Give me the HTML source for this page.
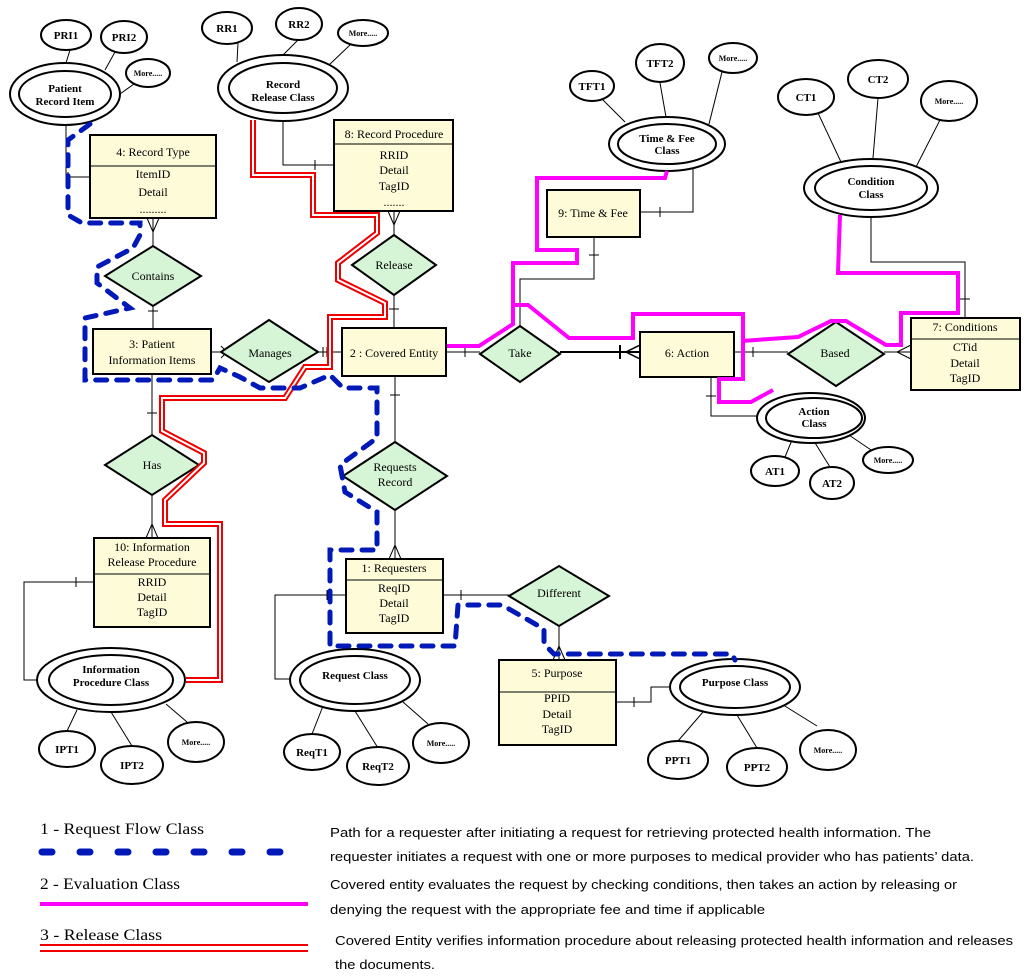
<!DOCTYPE html>
<html><head><meta charset="utf-8"><style>
html,body{margin:0;padding:0;background:#fff;}
svg{display:block;}
.s{font-family:"Liberation Serif",serif;}
</style></head><body>
<svg width="1024" height="978" viewBox="0 0 1024 978" xmlns="http://www.w3.org/2000/svg" class="s">
<g stroke="#000" stroke-width="1" fill="none">
<!-- connector lines -->
<polyline points="66,125 66,177 90,177"/><line x1="68" y1="172" x2="68" y2="182"/>
<polyline points="283,122 283,165 334,165"/><line x1="315" y1="160" x2="315" y2="170"/>
<line x1="153" y1="218" x2="153" y2="246"/><polyline points="147,218 153,232 159,218"/>
<line x1="153" y1="306" x2="153" y2="329"/><line x1="148" y1="311" x2="158" y2="311"/>
<line x1="394" y1="211" x2="394" y2="235"/><polyline points="388,211 394,225 400,211"/>
<line x1="394" y1="295" x2="394" y2="328"/><line x1="389" y1="309" x2="399" y2="309"/>
<line x1="211" y1="352" x2="221" y2="352"/><polyline points="221,346 227,352 221,358"/>
<line x1="318" y1="352" x2="342" y2="352"/><line x1="323" y1="347" x2="323" y2="357"/><line x1="327" y1="347" x2="327" y2="357"/>
<line x1="446" y1="352" x2="480" y2="352"/><line x1="465" y1="347" x2="465" y2="357"/>
<line x1="560" y1="352" x2="640" y2="352" stroke-width="2"/><line x1="620" y1="345" x2="620" y2="359" stroke-width="2"/><polyline points="640,345 626,352 640,359" stroke-width="1.5"/>
<line x1="734" y1="352" x2="788" y2="352"/><line x1="753" y1="347" x2="753" y2="357"/>
<line x1="884" y1="352" x2="911" y2="352"/><polyline points="911,345 897,352 911,359"/>
<polyline points="594,237 594,279 520,279 520,328"/><line x1="589" y1="255" x2="599" y2="255"/>
<polyline points="640,212 693,212 693,169"/><line x1="660" y1="207" x2="660" y2="217"/>
<polyline points="871,216 871,262 965,262 965,318"/><line x1="960" y1="299" x2="970" y2="299"/>
<polyline points="711,377 711,416 758,416"/><line x1="706" y1="396" x2="716" y2="396"/>
<line x1="152" y1="374" x2="152" y2="435"/><line x1="147" y1="413" x2="157" y2="413"/>
<line x1="152" y1="495" x2="152" y2="538"/><polyline points="146,538 152,524 158,538"/>
<line x1="395" y1="376" x2="395" y2="442"/><line x1="390" y1="395" x2="400" y2="395"/>
<line x1="395" y1="510" x2="395" y2="559"/><polyline points="389,559 395,545 401,559"/>
<polyline points="94,582 24,582 24,680 37,680"/><line x1="76" y1="577" x2="76" y2="587"/>
<polyline points="346,595 275,595 275,679 290,679"/><line x1="327" y1="590" x2="327" y2="600"/>
<line x1="443" y1="595" x2="509" y2="595"/><line x1="461" y1="590" x2="461" y2="600"/>
<line x1="559" y1="626" x2="559" y2="660"/><polyline points="553,660 559,646 565,660"/>
<polyline points="616,702 651,702 651,687 670,687"/><line x1="634" y1="697" x2="634" y2="707"/>
<!-- attribute lines -->
<line x1="70" y1="50" x2="66" y2="63"/><line x1="115" y1="52" x2="105" y2="70"/><line x1="134" y1="84" x2="120" y2="94"/>
<line x1="238" y1="43" x2="237" y2="62"/><line x1="298" y1="40" x2="283" y2="55"/><line x1="350" y1="45" x2="329" y2="65"/>
<line x1="602" y1="99" x2="625" y2="122"/><line x1="660" y1="83" x2="666" y2="117"/><line x1="722" y1="72" x2="709" y2="124"/>
<line x1="818" y1="113" x2="841" y2="162"/><line x1="878" y1="98" x2="873" y2="158"/><line x1="940" y1="120" x2="916" y2="167"/>
<line x1="785" y1="457" x2="792" y2="440"/><line x1="812" y1="438" x2="830" y2="467"/><line x1="846" y1="433" x2="874" y2="452"/>
<line x1="67" y1="731" x2="77" y2="710"/><line x1="132" y1="746" x2="111" y2="712"/><line x1="187" y1="722" x2="166" y2="704"/>
<line x1="312" y1="734" x2="323" y2="706"/><line x1="378" y1="748" x2="355" y2="711"/><line x1="428" y1="724" x2="403" y2="702"/>
<line x1="678" y1="741" x2="703" y2="712"/><line x1="757" y1="748" x2="737" y2="715"/><line x1="817" y1="726" x2="780" y2="703"/>
</g>
<!-- boxes -->
<g stroke="#000" stroke-width="2" fill="#fdfbd8">
<rect x="90" y="135" width="126" height="83"/>
<rect x="334" y="120" width="119" height="91"/>
<rect x="93" y="329" width="118" height="45"/>
<rect x="342" y="328" width="104" height="48"/>
<rect x="547" y="190" width="93" height="47"/>
<rect x="640" y="332" width="94" height="45"/>
<rect x="911" y="318" width="109" height="72"/>
<rect x="94" y="538" width="116" height="89"/>
<rect x="346" y="559" width="97" height="74"/>
<rect x="499" y="660" width="117" height="85"/>
</g>
<g stroke="#000" stroke-width="1">
<line x1="90" y1="166" x2="216" y2="166"/><line x1="334" y1="144" x2="453" y2="144"/>
<line x1="911" y1="339" x2="1020" y2="339"/><line x1="94" y1="574" x2="210" y2="574"/>
<line x1="346" y1="580" x2="443" y2="580"/><line x1="499" y1="692" x2="616" y2="692"/>
</g>
<!-- diamonds -->
<g stroke="#000" stroke-width="2" fill="#d6f5d6">
<polygon points="105,276 153,246 201,276 153,306"/>
<polygon points="352,265 394,235 436,265 394,295"/>
<polygon points="221,352 269,320 318,352 269,382"/>
<polygon points="480,354 520,326 560,354 520,382"/>
<polygon points="788,354 836,322 884,354 836,386"/>
<polygon points="105,465 152,435 199,465 152,495"/>
<polygon points="343,476 395,442 447,476 395,510"/>
<polygon points="509,596 559,566 609,596 559,626"/>
</g>
<!-- ellipses -->
<g stroke="#000" stroke-width="2" fill="#fff">
<ellipse cx="66" cy="35" rx="25" ry="15"/><ellipse cx="124" cy="37" rx="23" ry="16"/><ellipse cx="148" cy="73" rx="22" ry="14"/>
<ellipse cx="65" cy="94" rx="55" ry="31"/><ellipse cx="65" cy="94" rx="46" ry="23"/>
<ellipse cx="227" cy="28" rx="25" ry="16"/><ellipse cx="299" cy="24" rx="23" ry="16"/><ellipse cx="363" cy="33" rx="25" ry="13"/>
<ellipse cx="283" cy="88" rx="65" ry="33"/><ellipse cx="283" cy="88" rx="54" ry="25"/>
<ellipse cx="592" cy="86" rx="22" ry="15"/><ellipse cx="660" cy="63" rx="24" ry="19"/><ellipse cx="733" cy="58" rx="24" ry="15"/>
<ellipse cx="667" cy="144" rx="58" ry="27"/><ellipse cx="667" cy="144" rx="49" ry="20"/>
<ellipse cx="806" cy="97" rx="28" ry="18"/><ellipse cx="878" cy="79" rx="30" ry="19"/><ellipse cx="949" cy="101" rx="28" ry="20"/>
<ellipse cx="871" cy="188" rx="67" ry="29"/><ellipse cx="871" cy="188" rx="56" ry="22"/>
<ellipse cx="811" cy="418" rx="54" ry="25"/><ellipse cx="814" cy="418" rx="48" ry="20"/>
<ellipse cx="775" cy="471" rx="24" ry="15"/><ellipse cx="832" cy="483" rx="22" ry="16"/><ellipse cx="888" cy="460" rx="25" ry="13"/>
<ellipse cx="111" cy="680" rx="74" ry="32"/><ellipse cx="111" cy="680" rx="62" ry="25"/>
<ellipse cx="67" cy="749" rx="28" ry="18"/><ellipse cx="132" cy="765" rx="31" ry="19"/><ellipse cx="196" cy="742" rx="28" ry="20"/>
<ellipse cx="355" cy="680" rx="65" ry="31"/><ellipse cx="355" cy="680" rx="55" ry="24"/>
<ellipse cx="312" cy="752" rx="28" ry="18"/><ellipse cx="378" cy="766" rx="31" ry="19"/><ellipse cx="441" cy="743" rx="28" ry="20"/>
<ellipse cx="735" cy="687" rx="65" ry="28"/><ellipse cx="735" cy="687" rx="55" ry="21"/>
<ellipse cx="678" cy="760" rx="30" ry="19"/><ellipse cx="757" cy="767" rx="30" ry="19"/><ellipse cx="828" cy="750" rx="28" ry="20"/>
</g>
<!-- colored paths -->
<polyline fill="none" stroke="#e00" stroke-width="6" stroke-linejoin="miter" points="253,120 253,175 313,175 313,215 377,215 377,233 338,263 338,280 385,303 385,317 330,317 330,367 305,367 285,398 162,398 162,431 204,453 204,463 165,500 165,524 220,524 220,680 186,680"/>
<polyline fill="none" stroke="#fff" stroke-width="2" points="253,120 253,175 313,175 313,215 377,215 377,233 338,263 338,280 385,303 385,317 330,317 330,367 305,367 285,398 162,398 162,431 204,453 204,463 165,500 165,524 220,524 220,680 186,680"/>
<g fill="none" stroke="#f0f" stroke-width="4">
<polyline points="447,346 479,346 513,324 513,263 577,263 577,250 537,250 537,178 665,178 667,171"/>
<polyline points="513,305 528,305 569,338 633,338 633,314 743,314 743,379 719,379 719,402 751,402 773,390"/>
<polyline points="741,341 798,337 831,321 846,321 886,345 901,345 901,313 958,313 958,273 838,273 840,215"/>
</g>
<polyline fill="none" stroke="#0019b8" stroke-width="5" stroke-dasharray="11,10" stroke-linecap="round" points="90,124 68,140 68,215 82,223 140,223 140,235 133,248 97,267 97,283 130,308 85,318 85,380 213,380 220,368 240,377 260,388 300,388 330,375 343,388 377,388 377,438 340,465 345,492 377,512 377,550 330,550 330,646 455,646 458,605 502,605 544,629 544,644 554,654 732,654 735,660"/>
<!-- text -->
<g font-size="12" text-anchor="middle" fill="#000">
<text x="153" y="156">4: Record Type</text>
<text x="153" y="178">ItemID</text><text x="153" y="196">Detail</text><text x="153" y="213">.........</text>
<text x="394" y="138">8: Record Procedure</text>
<text x="394" y="159">RRID</text><text x="394" y="174">Detail</text><text x="394" y="190">TagID</text><text x="394" y="206">.......</text>
<text x="153" y="280">Contains</text>
<text x="394" y="269">Release</text>
<text x="152" y="348">3: Patient</text><text x="152" y="364">Information Items</text>
<text x="270" y="357">Manages</text>
<text x="394" y="357">2 : Covered Entity</text>
<text x="520" y="357">Take</text>
<text x="593" y="217">9: Time &amp; Fee</text>
<text x="687" y="357">6: Action</text>
<text x="835" y="357">Based</text>
<text x="965" y="331">7: Conditions</text>
<text x="965" y="351">CTid</text><text x="965" y="367">Detail</text><text x="965" y="382">TagID</text>
<text x="152" y="469">Has</text>
<text x="152" y="551">10: Information</text><text x="152" y="566">Release Procedure</text>
<text x="152" y="586">RRID</text><text x="152" y="601">Detail</text><text x="152" y="616">TagID</text>
<text x="395" y="471">Requests</text><text x="395" y="486">Record</text>
<text x="394" y="572">1: Requesters</text>
<text x="394" y="592">ReqID</text><text x="394" y="607">Detail</text><text x="394" y="622">TagID</text>
<text x="559" y="597">Different</text>
<text x="557" y="677">5: Purpose</text>
<text x="557" y="702">PPID</text><text x="557" y="718">Detail</text><text x="557" y="733">TagID</text>
</g>
<g font-size="11" font-weight="bold" text-anchor="middle" fill="#000">
<text x="66" y="39">PRI1</text><text x="124" y="41">PRI2</text>
<text x="65" y="92">Patient</text><text x="65" y="105">Record Item</text>
<text x="227" y="32">RR1</text><text x="299" y="28">RR2</text>
<text x="283" y="88">Record</text><text x="283" y="101">Release Class</text>
<text x="592" y="90">TFT1</text><text x="660" y="67">TFT2</text>
<text x="667" y="142">Time &amp; Fee</text><text x="667" y="154">Class</text>
<text x="806" y="101">CT1</text><text x="878" y="83">CT2</text>
<text x="871" y="185">Condition</text><text x="871" y="198">Class</text>
<text x="814" y="415">Action</text><text x="814" y="427">Class</text>
<text x="775" y="475">AT1</text><text x="832" y="487">AT2</text>
<text x="111" y="673">Information</text><text x="111" y="686">Procedure Class</text>
<text x="67" y="753">IPT1</text><text x="132" y="769">IPT2</text>
<text x="355" y="679">Request Class</text>
<text x="312" y="756">ReqT1</text><text x="378" y="770">ReqT2</text>
<text x="735" y="686">Purpose Class</text>
<text x="678" y="764">PPT1</text><text x="757" y="771">PPT2</text>
</g>
<g font-size="8" font-weight="bold" text-anchor="middle" fill="#000">
<text x="148" y="76">More.....</text><text x="363" y="36">More.....</text><text x="733" y="61">More.....</text>
<text x="949" y="104">More.....</text><text x="888" y="463">More.....</text><text x="196" y="745">More.....</text>
<text x="441" y="746">More.....</text><text x="828" y="753">More.....</text>
</g>
<!-- legend -->
<g font-size="16" fill="#000">
<text x="40" y="834" textLength="164" lengthAdjust="spacingAndGlyphs">1 - Request Flow Class</text>
<text x="40" y="889" textLength="140" lengthAdjust="spacingAndGlyphs">2 - Evaluation Class</text>
<text x="40" y="940" textLength="122" lengthAdjust="spacingAndGlyphs">3 - Release Class</text>
</g>
<line x1="42" y1="852" x2="308" y2="852" stroke="#0019b8" stroke-width="7" stroke-dasharray="10,28" stroke-linecap="round"/>
<line x1="40" y1="904" x2="308" y2="904" stroke="#f0f" stroke-width="4"/>
<line x1="40" y1="945" x2="308" y2="945" stroke="#e00" stroke-width="2"/>
<line x1="40" y1="951" x2="308" y2="951" stroke="#e00" stroke-width="2"/>
<g font-family="Liberation Sans, sans-serif" font-size="13" fill="#000">
<text x="330" y="837" textLength="601" lengthAdjust="spacingAndGlyphs">Path for a requester after initiating a request for retrieving protected health information. The</text>
<text x="330" y="861" textLength="644" lengthAdjust="spacingAndGlyphs">requester initiates a request with one or more purposes to medical provider who has patients’ data.</text>
<text x="330" y="889" textLength="627" lengthAdjust="spacingAndGlyphs">Covered entity evaluates the request by checking conditions, then takes an action by releasing or</text>
<text x="330" y="914" textLength="435" lengthAdjust="spacingAndGlyphs">denying the request with the appropriate fee and time if applicable</text>
<text x="335" y="945" textLength="678" lengthAdjust="spacingAndGlyphs">Covered Entity verifies information procedure about releasing protected health information and releases</text>
<text x="335" y="969" textLength="100" lengthAdjust="spacingAndGlyphs">the documents.</text>
</g>
</svg>
</body></html>
